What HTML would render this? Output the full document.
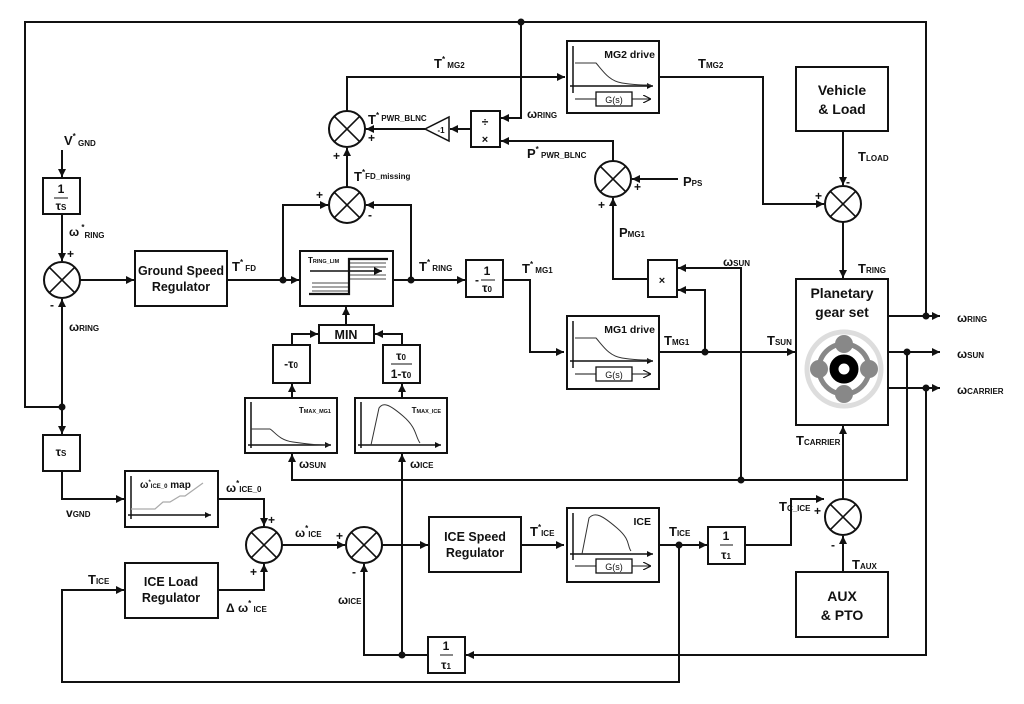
<!DOCTYPE html>
<html><head><meta charset="utf-8"><style>
html,body{margin:0;padding:0;background:#fff}
svg{display:block}
text{font-family:"Liberation Sans",sans-serif;font-weight:bold;font-size:12px;fill:#111}
.s{font-size:8px}
.bl{font-size:12.5px}
</style></head><body>
<svg width="1024" height="704" viewBox="0 0 1024 704" xmlns="http://www.w3.org/2000/svg">
<defs>
<marker id="a" viewBox="0 0 10 10" refX="10" refY="5" markerWidth="10" markerHeight="8" orient="auto" markerUnits="userSpaceOnUse"><path d="M0,0L10,5L0,10z" fill="#111"/></marker>
<marker id="t" viewBox="0 0 10 10" refX="10" refY="5" markerWidth="7" markerHeight="6" orient="auto" markerUnits="userSpaceOnUse"><path d="M0,0L10,5L0,10z" fill="#111"/></marker>
<marker id="o" viewBox="0 0 10 10" refX="10" refY="5" markerWidth="8" markerHeight="8" orient="auto" markerUnits="userSpaceOnUse"><path d="M0,0L10,5L0,10" fill="none" stroke="#111" stroke-width="1.5"/></marker>
<g id="sum"><circle r="18" fill="#fff" stroke="#111" stroke-width="2"/><path d="M-12.7,-12.7L12.7,12.7M12.7,-12.7L-12.7,12.7" stroke="#111" stroke-width="1.6"/></g>
<g id="gs"><rect x="29" y="51" width="36" height="14" fill="#fff" stroke="#111" stroke-width="1.3"/><text x="47" y="62" text-anchor="middle" style="font-size:9px;font-weight:normal">G(s)</text><path d="M8,58H29M65,58H84" stroke="#111" stroke-width="1" marker-end="url(#o)"/></g>
</defs>
<g fill="none" stroke="#111" stroke-width="2">
<!-- outer frame -->
<path d="M62,407H25V22H926V316"/>
<path d="M521,22V118H501" marker-end="url(#a)"/>
<!-- ÷× box and feeds -->
<path d="M613,161V141H501" marker-end="url(#a)"/>
<path d="M471,129H450" marker-end="url(#a)"/>
<path d="M425,129H366" marker-end="url(#a)"/>
<path d="M347,111V77H565" marker-end="url(#a)"/>
<path d="M347,187V148" marker-end="url(#a)"/>
<path d="M283,280V205H328" marker-end="url(#a)"/>
<path d="M411,280V205H366" marker-end="url(#a)"/>
<!-- left chain -->
<path d="M62,150V177" marker-end="url(#a)"/>
<path d="M62,214V261" marker-end="url(#a)"/>
<path d="M80,280H134" marker-end="url(#a)"/>
<path d="M227,280H299" marker-end="url(#a)"/>
<path d="M393,280H465" marker-end="url(#a)"/>
<path d="M503,280H530V352H564" marker-end="url(#a)"/>
<path d="M62,407V299" marker-end="url(#a)"/>
<path d="M62,407V434" marker-end="url(#a)"/>
<path d="M62,471V499H124" marker-end="url(#a)"/>
<!-- MIN -->
<path d="M346,325V307" marker-end="url(#a)"/>
<path d="M292,345V334H318" marker-end="url(#a)"/>
<path d="M402,345V334H375" marker-end="url(#a)"/>
<path d="M292,398V384" marker-end="url(#a)"/>
<path d="M402,398V384" marker-end="url(#a)"/>
<path d="M907,352V480H292V454" marker-end="url(#a)"/>
<path d="M402,655V454" marker-end="url(#a)"/>
<!-- MG2 output -->
<path d="M659,77H763V204H824" marker-end="url(#a)"/>
<path d="M843,131V185" marker-end="url(#a)"/>
<path d="M843,222V278" marker-end="url(#a)"/>
<!-- MG1 -->
<path d="M659,352H795" marker-end="url(#a)"/>
<path d="M705,352V290H678" marker-end="url(#a)"/>
<path d="M741,480V268H678" marker-end="url(#a)"/>
<path d="M648,279H613V198" marker-end="url(#a)"/>
<path d="M678,179H632" marker-end="url(#a)"/>
<!-- planetary outputs -->
<path d="M888,316H940" marker-end="url(#a)"/>
<path d="M888,352H940" marker-end="url(#a)"/>
<path d="M888,388H940" marker-end="url(#a)"/>
<path d="M926,388V655H466" marker-end="url(#a)"/>
<!-- bottom -->
<path d="M843,499V426" marker-end="url(#a)"/>
<path d="M843,572V536" marker-end="url(#a)"/>
<path d="M745,545H791V499H824" marker-end="url(#a)"/>
<path d="M659,545H707" marker-end="url(#a)"/>
<path d="M679,545V682H62V590H124" marker-end="url(#a)"/>
<path d="M218,499H264V526" marker-end="url(#a)"/>
<path d="M218,590H264V564" marker-end="url(#a)"/>
<path d="M282,545H345" marker-end="url(#a)"/>
<path d="M382,545H428" marker-end="url(#a)"/>
<path d="M521,545H564" marker-end="url(#a)"/>
<path d="M428,655H364V564" marker-end="url(#a)"/>
</g>
<!-- dots -->
<g fill="#111">
<circle cx="521" cy="22" r="3.5"/><circle cx="283" cy="280" r="3.5"/><circle cx="411" cy="280" r="3.5"/>
<circle cx="62" cy="407" r="3.5"/><circle cx="705" cy="352" r="3.5"/><circle cx="926" cy="316" r="3.5"/>
<circle cx="907" cy="352" r="3.5"/><circle cx="926" cy="388" r="3.5"/><circle cx="741" cy="480" r="3.5"/>
<circle cx="679" cy="545" r="3.5"/><circle cx="402" cy="655" r="3.5"/>
</g>
<!-- sums -->
<use href="#sum" x="347" y="129"/><use href="#sum" x="347" y="205"/><use href="#sum" x="62" y="280"/>
<use href="#sum" x="613" y="179"/><use href="#sum" x="843" y="204"/><use href="#sum" x="843" y="517"/>
<use href="#sum" x="264" y="545"/><use href="#sum" x="364" y="545"/>
<!-- boxes -->
<g fill="#fff" stroke="#111" stroke-width="2">
<rect x="471" y="111" width="29" height="36"/>
<path d="M425,129L449,117V141Z" stroke-width="1.5"/>
<rect x="43" y="178" width="37" height="36"/>
<rect x="135" y="251" width="92" height="55"/>
<rect x="300" y="251" width="93" height="55"/>
<rect x="466" y="260" width="37" height="37"/>
<rect x="319" y="325" width="55" height="18"/>
<rect x="273" y="345" width="37" height="38"/>
<rect x="383" y="345" width="37" height="38"/>
<rect x="245" y="398" width="92" height="55"/>
<rect x="355" y="398" width="92" height="55"/>
<rect x="43" y="435" width="37" height="36"/>
<rect x="125" y="471" width="93" height="56"/>
<rect x="125" y="563" width="93" height="55"/>
<rect x="429" y="517" width="92" height="55"/>
<rect x="708" y="527" width="37" height="37"/>
<rect x="428" y="637" width="37" height="36"/>
<rect x="648" y="260" width="29" height="37"/>
<rect x="796" y="67" width="92" height="64"/>
<rect x="796" y="279" width="92" height="146"/>
<rect x="796" y="572" width="92" height="65"/>
<rect x="567" y="41" width="92" height="72"/>
<rect x="567" y="316" width="92" height="73"/>
<rect x="567" y="508" width="92" height="74"/>
</g>
<!-- drive box internals -->
<g transform="translate(567,41)"><path d="M6,52V5M3,45H86" stroke="#111" stroke-width="1.5" fill="none" marker-end="url(#t)"/><path d="M8,22H29C36,30 42,40 55,42S75,44 84,44" stroke="#333" stroke-width="1" fill="none"/><use href="#gs"/><text x="88" y="17" text-anchor="end" style="font-size:10.5px">MG2 drive</text></g>
<g transform="translate(567,316)"><path d="M6,52V5M3,45H86" stroke="#111" stroke-width="1.5" fill="none" marker-end="url(#t)"/><path d="M8,22H29C36,30 42,40 55,42S75,44 84,44" stroke="#333" stroke-width="1" fill="none"/><use href="#gs"/><text x="88" y="17" text-anchor="end" style="font-size:10.5px">MG1 drive</text></g>
<g transform="translate(567,508)"><path d="M6,52V5M3,46H86" stroke="#111" stroke-width="1.5" fill="none" marker-end="url(#t)"/><path d="M15,46L22,10C28,3 36,8 50,20S60,38 64,43" stroke="#333" stroke-width="1" fill="none"/><use href="#gs"/><text x="84" y="17" text-anchor="end" style="font-size:10.5px">ICE</text></g>
<g transform="translate(245,398)"><path d="M6,50V4M3,47H86" stroke="#111" stroke-width="1.5" fill="none" marker-end="url(#t)"/><path d="M6,31H25C30,34 34,42 48,44S70,47 84,47" stroke="#333" stroke-width="1" fill="none"/><text x="86" y="15" text-anchor="end" style="font-size:8px">T<tspan style="font-size:5.5px">MAX_MG1</tspan></text></g>
<g transform="translate(355,398)"><path d="M6,50V4M3,47H86" stroke="#111" stroke-width="1.5" fill="none" marker-end="url(#t)"/><path d="M16,47L24,10C28,4 34,6 48,18S60,38 65,45" stroke="#333" stroke-width="1" fill="none"/><text x="86" y="15" text-anchor="end" style="font-size:8px">T<tspan style="font-size:5.5px">MAX_ICE</tspan></text></g>
<g transform="translate(125,471)"><path d="M6,48V5M3,44H86" stroke="#111" stroke-width="1.5" fill="none" marker-end="url(#t)"/><path d="M6,38H30L38,31H45L55,25H60L78,12" stroke="#aaa" stroke-width="1.2" fill="none"/><text x="15" y="17" style="font-size:10px">ω<tspan dy="-4" style="font-size:6px">*</tspan><tspan dy="4" style="font-size:6px">ICE_0</tspan> map</text></g>
<!-- TRING_LIM internals -->
<g transform="translate(300,251)" stroke="#111" fill="none">
<path d="M9,43H49V8H88" stroke-width="2.2"/>
<path d="M10,20H82" stroke-width="1.5" marker-end="url(#a)"/>
<path d="M49,12H86M49,16H86M49,24H86M49,28H86M12,32H49M12,36H49M12,40H49" stroke-width="0.8"/>
<text x="8" y="12" stroke="none" style="font-size:8px">T<tspan style="font-size:5.5px">RING_LIM</tspan></text>
</g>
<!-- gear -->
<g transform="translate(844,369)">
<circle r="37" fill="none" stroke="#ddd" stroke-width="5"/>
<circle r="25" fill="none" stroke="#888" stroke-width="5"/>
<circle r="10" fill="none" stroke="#000" stroke-width="9"/>
<g fill="#888"><circle cx="0" cy="-25" r="9"/><circle cx="0" cy="25" r="9"/><circle cx="-25" cy="0" r="9"/><circle cx="25" cy="0" r="9"/></g>
</g>
<!-- box texts -->
<g text-anchor="middle">
<text x="485" y="126">÷</text><text x="485" y="143" style="font-size:11px">×</text>
<text x="662" y="284" style="font-size:11px">×</text>
<text x="441" y="133" style="font-size:8px">-1</text>
<text x="61" y="193">1</text><path d="M54,198H68" stroke="#111"/><text x="61" y="210">τ<tspan class="s">S</tspan></text>
<text x="487" y="275">1</text><path d="M481,280H495" stroke="#111"/><text x="477" y="284">-</text><text x="487" y="292">τ<tspan class="s">0</tspan></text>
<text x="181" y="275" class="bl">Ground Speed</text><text x="181" y="291" class="bl">Regulator</text>
<text x="346" y="339" style="font-size:12.5px">MIN</text>
<text x="291" y="368">-τ<tspan class="s">0</tspan></text>
<text x="401" y="360">τ<tspan class="s">0</tspan></text><path d="M391,364H412" stroke="#111"/><text x="401" y="378">1-τ<tspan class="s">0</tspan></text>
<text x="61" y="456">τ<tspan class="s">S</tspan></text>
<text x="171" y="586" class="bl">ICE Load</text><text x="171" y="602" class="bl">Regulator</text>
<text x="475" y="541" class="bl">ICE Speed</text><text x="475" y="557" class="bl">Regulator</text>
<text x="726" y="540">1</text><path d="M720,545H733" stroke="#111"/><text x="726" y="559">τ<tspan class="s">1</tspan></text>
<text x="446" y="650">1</text><path d="M440,655H453" stroke="#111"/><text x="446" y="669">τ<tspan class="s">1</tspan></text>
<text x="842" y="95" style="font-size:14px">Vehicle</text><text x="842" y="114" style="font-size:14px">&amp; Load</text>
<text x="842" y="298" style="font-size:14px">Planetary</text><text x="842" y="317" style="font-size:14px">gear set</text>
<text x="842" y="601" style="font-size:14px">AUX</text><text x="842" y="620" style="font-size:14px">&amp; PTO</text>
</g>
<!-- signal labels -->
<g>
<text x="434" y="68" style="font-size:13px">T<tspan dy="-6" class="s">*</tspan><tspan dy="6" class="s"> MG2</tspan></text>
<text x="368" y="124" style="font-size:13px">T<tspan dy="-6" class="s">*</tspan><tspan dy="3" class="s"> PWR_BLNC</tspan></text>
<text x="368" y="142">+</text>
<text x="333" y="160">+</text>
<text x="354" y="181" style="font-size:13px">T<tspan dy="-6" class="s">*</tspan><tspan dy="4" class="s">FD_missing</tspan></text>
<text x="316" y="199">+</text><text x="368" y="219">-</text>
<text x="64" y="145" style="font-size:13px">V<tspan dy="-6" class="s">*</tspan><tspan dy="7" class="s"> GND</tspan></text>
<text x="69" y="236">ω<tspan dy="-6" class="s"> *</tspan><tspan dy="8" class="s">RING</tspan></text>
<text x="67" y="258">+</text><text x="50" y="309">-</text>
<text x="69" y="331">ω<tspan class="s">RING</tspan></text>
<text x="232" y="271" style="font-size:13px">T<tspan dy="-6" class="s">*</tspan><tspan dy="6" class="s"> FD</tspan></text>
<text x="419" y="271" style="font-size:13px">T<tspan dy="-6" class="s">*</tspan><tspan dy="6" class="s"> RING</tspan></text>
<text x="522" y="273" style="font-size:13px">T<tspan dy="-6" class="s">*</tspan><tspan dy="6" class="s"> MG1</tspan></text>
<text x="527" y="118">ω<tspan class="s">RING</tspan></text>
<text x="527" y="158" style="font-size:13px">P<tspan dy="-6" class="s">*</tspan><tspan dy="6" class="s"> PWR_BLNC</tspan></text>
<text x="634" y="191">+</text><text x="598" y="209">+</text>
<text x="683" y="186" style="font-size:13px">P<tspan class="s">PS</tspan></text>
<text x="619" y="237" style="font-size:13px">P<tspan class="s">MG1</tspan></text>
<text x="723" y="266">ω<tspan class="s">SUN</tspan></text>
<text x="698" y="68" style="font-size:13px">T<tspan class="s">MG2</tspan></text>
<text x="858" y="161" style="font-size:13px">T<tspan class="s">LOAD</tspan></text>
<text x="846" y="186">-</text><text x="815" y="200">+</text>
<text x="858" y="273" style="font-size:13px">T<tspan class="s">RING</tspan></text>
<text x="664" y="345" style="font-size:13px">T<tspan class="s">MG1</tspan></text>
<text x="767" y="345" style="font-size:13px">T<tspan class="s">SUN</tspan></text>
<text x="957" y="322">ω<tspan class="s">RING</tspan></text>
<text x="957" y="358">ω<tspan class="s">SUN</tspan></text>
<text x="957" y="394">ω<tspan class="s">CARRIER</tspan></text>
<text x="796" y="445" style="font-size:13px">T<tspan class="s">CARRIER</tspan></text>
<text x="779" y="511" style="font-size:13px">T<tspan class="s">C_ICE</tspan></text>
<text x="814" y="515">+</text><text x="831" y="549">-</text>
<text x="852" y="569" style="font-size:13px">T<tspan class="s">AUX</tspan></text>
<text x="299" y="468">ω<tspan class="s">SUN</tspan></text>
<text x="410" y="468">ω<tspan class="s">ICE</tspan></text>
<text x="66" y="517">v<tspan class="s">GND</tspan></text>
<text x="226" y="492">ω<tspan dy="-6" class="s">*</tspan><tspan dy="6" class="s">ICE_0</tspan></text>
<text x="268" y="524">+</text><text x="250" y="576">+</text>
<text x="295" y="537">ω<tspan dy="-6" class="s">*</tspan><tspan dy="6" class="s">ICE</tspan></text>
<text x="336" y="540">+</text><text x="352" y="576">-</text>
<text x="338" y="604">ω<tspan class="s">ICE</tspan></text>
<text x="88" y="584" style="font-size:13px">T<tspan class="s">ICE</tspan></text>
<text x="226" y="612">Δ ω<tspan dy="-6" class="s">*</tspan><tspan dy="6" class="s"> ICE</tspan></text>
<text x="530" y="536" style="font-size:13px">T<tspan dy="-6" class="s">*</tspan><tspan dy="6" class="s">ICE</tspan></text>
<text x="669" y="536" style="font-size:13px">T<tspan class="s">ICE</tspan></text>
</g>
</svg>
</body></html>
